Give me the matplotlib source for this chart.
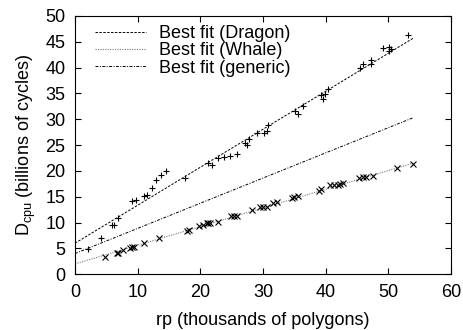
import matplotlib
matplotlib.use("Agg")
import matplotlib.pyplot as plt
import numpy as np

plt.rcParams['font.family'] = ['Liberation Sans', 'DejaVu Sans']
plt.rcParams['mathtext.fontset'] = 'custom'
plt.rcParams['mathtext.rm'] = 'Liberation Sans'

# Dragon measurements (+)
dragon_x = [2.1, 4.15, 5.85, 6.2, 6.9, 9.15, 9.7, 11.05, 11.5, 12.3, 12.9, 13.8, 14.45,
            17.5, 21.2, 21.8, 22.9, 23.8, 24.8, 25.8, 27.1, 27.5, 27.75, 29.1, 30.2, 30.6, 30.8,
            35.1, 35.6, 36.4, 39.3, 39.5, 39.9, 40.3, 45.5, 45.9, 47.2, 47.2,
            49.1, 50.1, 50.1, 50.5, 53.2]
dragon_y = [4.9, 7.1, 9.55, 9.55, 10.85, 14.1, 14.3, 15.05, 15.4, 16.7, 18.3, 19.2, 19.9,
            18.7, 21.6, 21.2, 22.5, 22.6, 22.9, 23.3, 25.4, 25.1, 26.2, 27.3, 27.3, 27.8, 28.9,
            31.5, 31.1, 32.5, 34.6, 33.9, 34.9, 35.9, 40.0, 40.6, 40.7, 41.5,
            43.7, 43.9, 43.1, 43.6, 46.2]

# Whale measurements (x)
whale_x = [4.8, 6.65, 6.9, 7.6, 8.8, 9.15, 9.45, 11.05, 13.45,
           17.8, 18.2, 19.8, 20.5, 21.0, 21.3, 21.6, 22.8, 24.9, 25.4, 25.9, 28.3,
           29.5, 30.0, 30.6, 31.6, 32.2, 34.7, 35.0, 35.6, 39.0, 39.3,
           40.7, 41.3, 41.9, 42.3, 42.8, 45.3, 46.0, 46.4, 47.5, 51.4, 54.0]
whale_y = [3.4, 4.2, 4.1, 4.6, 5.0, 5.2, 5.35, 6.0, 7.0,
           8.45, 8.6, 9.4, 9.55, 9.9, 9.9, 10.0, 10.2, 11.2, 11.35, 11.35, 12.5,
           13.0, 13.0, 13.0, 13.75, 13.95, 14.7, 14.85, 15.2, 16.2, 16.5,
           17.3, 17.2, 17.2, 17.4, 17.6, 18.6, 18.8, 18.9, 19.05, 20.5, 21.4]

# best fit lines: (intercept, slope)
fit_dragon = (6.0, 0.735)
fit_whale = (2.0, 0.361)
fit_generic = (4.0, 0.487)
fit_range = [0, 54]

fig = plt.figure(figsize=(4.63, 3.3), dpi=100)
ax = fig.add_axes([0.162, 0.169, 0.812, 0.783])

xs = np.array(fit_range)
ax.plot(xs, fit_dragon[0] + fit_dragon[1] * xs, color='black', lw=0.7,
        dashes=(2.5, 1.5), label='Best fit (Dragon)')
ax.plot(xs, fit_whale[0] + fit_whale[1] * xs, color='#777777', lw=0.8,
        dashes=(1, 1.2), label='Best fit (Whale)')
ax.plot(xs, fit_generic[0] + fit_generic[1] * xs, color='black', lw=0.7,
        dashes=(3, 1.5, 1, 1.5), label='Best fit (generic)')

ax.plot(dragon_x, dragon_y, '+', color='black', ms=5, mew=0.8, ls='none')
ax.plot(whale_x, whale_y, 'x', color='black', ms=4, mew=0.8, ls='none')

ax.set_xlim(0, 60)
ax.set_ylim(0, 50)
ax.set_xticks(range(0, 61, 10))
ax.set_yticks(range(0, 51, 5))
ax.tick_params(direction='in', top=True, right=True, length=4, width=0.8,
               labelsize=13, pad=7)
for s in ax.spines.values():
    s.set_linewidth(0.8)

ax.set_xlabel('rp (thousands of polygons)', fontsize=13, labelpad=8)
ax.set_ylabel(r'D$_{\mathregular{cpu}}$ (billions of cycles)', fontsize=13, labelpad=5)

ax.legend(loc='upper left', frameon=False, fontsize=13, handlelength=2.8,
          handletextpad=0.7, labelspacing=0.02, borderaxespad=0.1,
          bbox_to_anchor=(0.03, 1.0))

fig.savefig('out.png', dpi=100)
